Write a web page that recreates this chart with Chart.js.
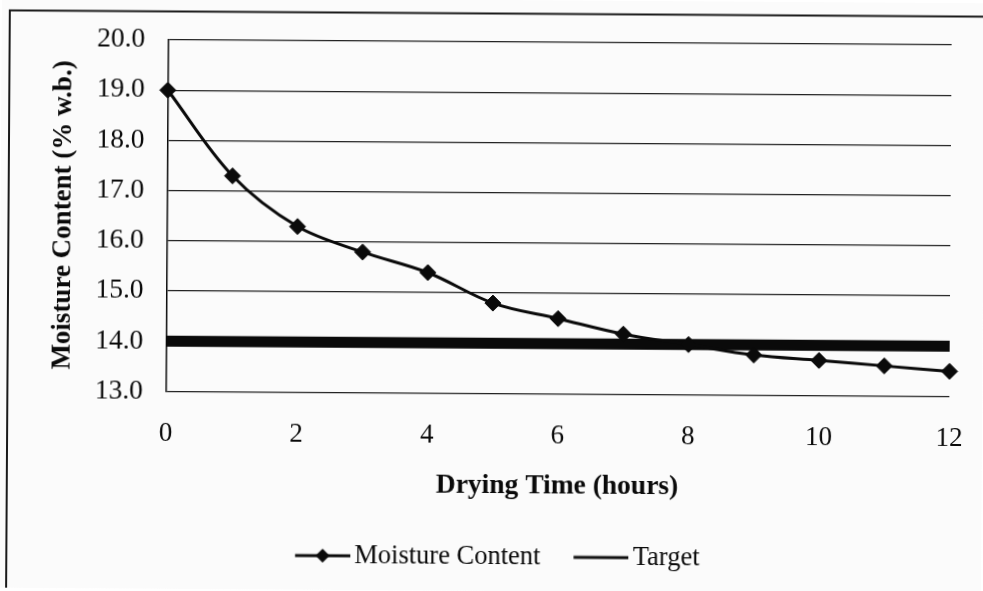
<!DOCTYPE html>
<html>
<head>
<meta charset="utf-8">
<title>Moisture content vs drying time</title>
<script src="https://cdn.jsdelivr.net/npm/chart.js@4.4.1/dist/chart.umd.min.js"></script>
<style>
    html, body { margin: 0; padding: 0; background: #fff; }
    #wrap { width: 983px; height: 591px; overflow: hidden; }
    /* the scanned original sits slightly tilted */
    #dryingChart { display: block; transform: rotate(0.37deg); }
</style>
</head>
<body>
<div id="wrap"><canvas id="dryingChart" width="983" height="591"></canvas></div>
<script>
// data
const hours = [0, 1, 2, 3, 4, 5, 6, 7, 8, 9, 10, 11, 12];
const moisture = [19.0, 17.3, 16.3, 15.8, 15.4, 14.8, 14.5, 14.2, 14.0, 13.8, 13.7, 13.6, 13.5];
const targetHours = [0, 12];
const targetLevel = [14.0, 14.0];
const xTickValues = [0, 2, 4, 6, 8, 10, 12];
const yTickValues = [13, 14, 15, 16, 17, 18, 19, 20];

const INK = '#0a0a0a';
Chart.defaults.font.family = "'Liberation Serif', 'Times New Roman', serif";

// legend icons: short line, with diamond for the measured series
function makeLegendIcon(withDiamond) {
    const c = document.createElement('canvas');
    c.width = 87;
    c.height = 20;
    const g = c.getContext('2d');
    g.strokeStyle = INK;
    g.lineWidth = 3;
    g.beginPath();
    g.moveTo(32, 10);
    g.lineTo(87, 10);
    g.stroke();
    if (withDiamond) {
        g.fillStyle = INK;
        g.beginPath();
        g.moveTo(59.5, 3);
        g.lineTo(66.5, 10);
        g.lineTo(59.5, 17);
        g.lineTo(52.5, 10);
        g.closePath();
        g.fill();
    }
    return c;
}
const legendIcons = [makeLegendIcon(true), makeLegendIcon(false)];

const framePlugin = {
    id: 'frame',
    beforeDraw(chart) {
        const ctx = chart.ctx;
        ctx.save();
        ctx.fillStyle = '#fbfbfb';
        ctx.fillRect(0, 0, chart.width, chart.height);
        ctx.strokeStyle = '#1a1a1a';
        ctx.lineWidth = 2;
        ctx.strokeRect(8, 13.5, 1100, 700);
        ctx.restore();
    }
};

const ctx = document.getElementById('dryingChart').getContext('2d');
new Chart(ctx, {
    type: 'line',
    data: {
        datasets: [{
            label: 'Moisture Content',
            data: hours.map((h, i) => ({ x: h, y: moisture[i] })),
            borderColor: INK,
            backgroundColor: INK,
            borderWidth: 3,
            tension: 0.35,
            pointStyle: 'rectRot',
            pointRadius: 8,
            pointBorderWidth: 1,
            pointBackgroundColor: INK,
            pointBorderColor: INK,
            clip: false
        }, {
            label: 'Target',
            data: targetHours.map((h, i) => ({ x: h, y: targetLevel[i] })),
            borderColor: INK,
            backgroundColor: INK,
            borderWidth: 11,
            pointRadius: 0,
            clip: false
        }]
    },
    options: {
        responsive: false,
        animation: false,
        devicePixelRatio: 1,
        layout: { padding: { left: 25, right: 33, top: 42, bottom: 11 } },
        plugins: {
            tooltip: { enabled: false },
            legend: {
                position: 'bottom',
                labels: {
                    usePointStyle: true,
                    pointStyleWidth: 69,
                    padding: 10,
                    color: INK,
                    font: { size: 26.5 },
                    generateLabels: chart => Chart.defaults.plugins.legend.labels
                        .generateLabels(chart)
                        .map((item, i) => ({ ...item, pointStyle: legendIcons[i] }))
                }
            }
        },
        scales: {
            x: {
                type: 'linear',
                min: 0,
                max: 12,
                afterBuildTicks: scale => { scale.ticks = xTickValues.map(v => ({ value: v })); },
                afterFit: scale => { scale.height = 140; },
                grid: { display: false },
                border: { display: false },
                // tall line box pushes the labels down without adding side padding
                ticks: { padding: 0, color: INK, font: { size: 27, lineHeight: 2.55 } },
                title: {
                    display: true,
                    text: 'Drying Time (hours)',
                    color: INK,
                    font: { size: 27.5, weight: 'bold' },
                    padding: { top: 0, bottom: 31 }
                }
            },
            y: {
                min: 13,
                max: 20,
                afterBuildTicks: scale => { scale.ticks = yTickValues.map(v => ({ value: v })); },
                afterFit: scale => { scale.width = 141.5; },
                grid: { color: '#222', lineWidth: 1.3, drawTicks: false },
                border: { display: true, color: INK, width: 1.5 },
                ticks: {
                    padding: 23,
                    color: INK,
                    font: { size: 27.5 },
                    callback: v => v.toFixed(1)
                },
                title: {
                    display: true,
                    text: 'Moisture Content (% w.b.)',
                    color: INK,
                    font: { size: 27, weight: 'bold' },
                    padding: { top: 22, bottom: 0 }
                }
            }
        }
    },
    plugins: [framePlugin]
});
</script>
</body>
</html>
